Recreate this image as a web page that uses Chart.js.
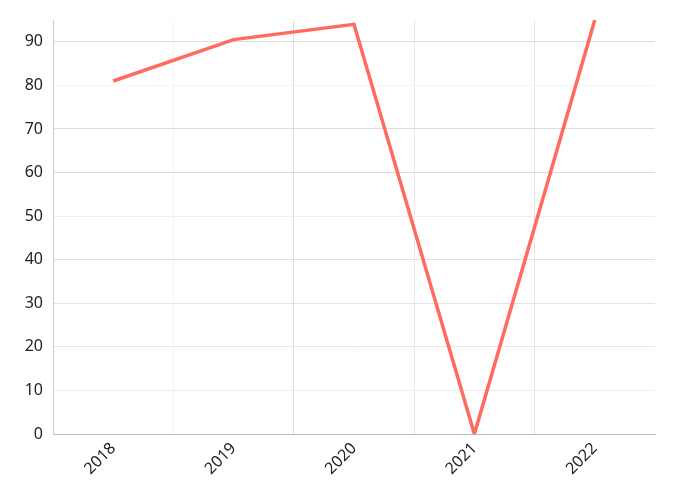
<!DOCTYPE html>
<html>
<head>
<meta charset="utf-8">
<script src="https://cdn.jsdelivr.net/npm/chart.js@4/dist/chart.umd.min.js"></script>
<style>
html,body{margin:0;padding:0;background:#fff;}
#wrap{width:676px;height:500px;}
</style>
</head>
<body>
<div id="wrap"><canvas id="c" width="676" height="500"></canvas></div>
<script>
const categories = ["2018", "2019", "2020", "2021", "2022"];
const seriesValues = [81, 90.5, 94, 0, 95];
const yTicks = [0, 10, 20, 30, 40, 50, 60, 70, 80, 90];
const yGridColors = ["#bbbbbb", "#eeeeee", "#e8e8e8", "#e5e5e5", "#e0e0e0", "#eeeeee", "#dddddd", "#dddddd", "#f5f5f5", "#dddddd"];
const xGridColors = ["#cccccc", "#f5f5f5", "#dddddd", "#e8e8e8", "#e5e5e5", "rgba(0,0,0,0)"];

Chart.defaults.font.family = "'Noto Sans', 'Open Sans', sans-serif";
Chart.defaults.font.size = 16;
Chart.defaults.color = "#222";

new Chart(document.getElementById("c"), {
  type: "line",
  data: {
    labels: categories,
    datasets: [{
      data: seriesValues,
      borderColor: "#ff6b5e",
      borderWidth: 3.5,
      pointRadius: 0,
      tension: 0,
      fill: false
    }]
  },
  options: {
    responsive: false,
    animation: false,
    layout: { padding: { top: 20, right: 21, left: 0, bottom: 0 } },
    plugins: { legend: { display: false }, tooltip: { enabled: false } },
    scales: {
      x: {
        offset: true,
        grid: {
          offset: true,
          drawTicks: false,
          color: (ctx) => xGridColors[ctx.index] || "rgba(0,0,0,0)"
        },
        border: { color: "#bbbbbb" },
        ticks: { maxRotation: 45, minRotation: 45, padding: 5 },
        afterFit: (s) => { s.height = 66; }
      },
      y: {
        min: 0,
        max: 95,
        afterBuildTicks: (s) => { s.ticks = yTicks.map(v => ({ value: v })); },
        grid: {
          drawTicks: false,
          color: (ctx) => yGridColors[ctx.index] || "#eeeeee"
        },
        border: { color: "#cccccc" },
        ticks: { padding: 10 },
        afterFit: (s) => { s.width = 53; }
      }
    }
  }
});
</script>
</body>
</html>
